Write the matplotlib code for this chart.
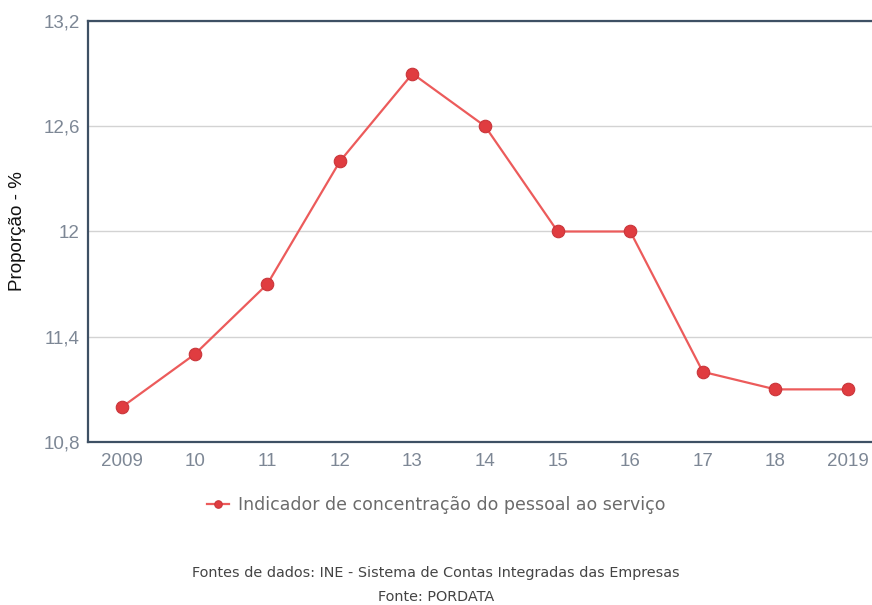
import matplotlib
matplotlib.use("Agg")
import matplotlib.pyplot as plt

# data
years = ["2009", "10", "11", "12", "13", "14", "15", "16", "17", "18", "2019"]
values = [11.0, 11.3, 11.7, 12.4, 12.9, 12.6, 12.0, 12.0, 11.2, 11.1, 11.1]
y_ticks = [10.8, 11.4, 12.0, 12.6, 13.2]
y_tick_labels = ["10,8", "11,4", "12", "12,6", "13,2"]

series_label = "Indicador de concentração do pessoal ao serviço"
y_label = "Proporção - %"
footer_1 = "Fontes de dados: INE - Sistema de Contas Integradas das Empresas"
footer_2 = "Fonte: PORDATA"

LINE_COLOR = "#ec5b5b"
MARKER_COLOR = "#e03c40"
SPINE_COLOR = "#3e5064"
TICK_COLOR = "#7d8795"

fig = plt.figure(figsize=(8.72, 6.05), dpi=100)
ax = fig.add_axes([88 / 872, 163 / 605, 1 - 88 / 872, 421 / 605])

xs = list(range(len(years)))
ax.plot(xs, values, color=LINE_COLOR, linewidth=1.6, marker="o",
        markersize=9, markerfacecolor=MARKER_COLOR,
        markeredgecolor="#c9353a", markeredgewidth=0.8, zorder=3,
        label=series_label)

ax.set_xlim(-0.47, 10.33)
ax.set_ylim(10.8, 13.2)
ax.set_yticks(y_ticks)
ax.set_yticklabels(y_tick_labels)
ax.set_xticks(xs)
ax.set_xticklabels(years)
ax.tick_params(length=0, labelsize=13.5, labelcolor=TICK_COLOR)
ax.tick_params(axis="y", pad=6)
ax.tick_params(axis="x", pad=8)
for lab in ax.get_xticklabels() + ax.get_yticklabels():
    lab.set_fontfamily("Liberation Sans")

ax.grid(axis="y", color="#d3d3d3", linewidth=1)
ax.set_axisbelow(True)
for side in ("left", "top", "bottom"):
    ax.spines[side].set_color(SPINE_COLOR)
    ax.spines[side].set_linewidth(1.6)
ax.spines["right"].set_visible(False)

ax.set_ylabel(y_label, fontsize=13.5, family="Liberation Sans", color="#111111")
ax.yaxis.set_label_coords(-62 / 784, 0.5)

leg = fig.legend(loc="center", bbox_to_anchor=(436 / 872, 1 - 505 / 605),
                 frameon=False, fontsize=12.5, handlelength=1.3,
                 handletextpad=0.5, markerscale=0.6)
for t in leg.get_texts():
    t.set_color("#6b6b6b")

fig.text(436 / 872, 1 - 573 / 605, footer_1, ha="center", va="center",
         fontsize=10.4, color="#444444")
fig.text(436 / 872, 1 - 597 / 605, footer_2, ha="center", va="center",
         fontsize=10.4, color="#444444")

fig.savefig("out.png", dpi=100)
